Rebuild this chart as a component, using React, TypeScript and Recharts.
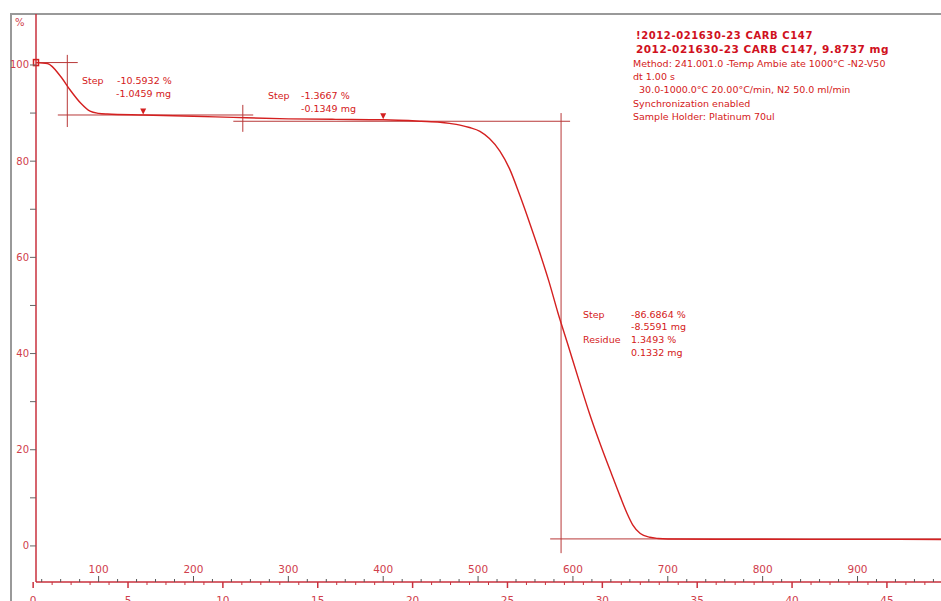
import React from "react";
import {
  ComposedChart,
  Line,
  XAxis,
  YAxis,
  ReferenceLine,
  ReferenceDot,
} from "recharts";

// TGA curve: sample temperature (°C) vs. remaining mass (%)
const tempC = [
  34, 46, 60, 70, 81, 91, 100, 109, 147, 200, 242, 300, 350, 400, 440, 460,
  470, 481, 491, 502, 512, 523, 533, 544, 555, 565, 575, 584, 594, 607, 617,
  628, 641, 650, 657, 663, 671, 681, 690, 700, 750, 800, 900, 988,
];
const massPct = [
  100.5, 100.3, 97.6, 94.8, 92.1, 90.4, 89.95, 89.8, 89.6, 89.35, 89.1, 88.8,
  88.7, 88.6, 88.3, 88.1, 87.85, 87.5, 87.0, 86.2, 84.7, 82.1, 78.5, 72.9,
  66.8, 61.0, 54.8, 48.6, 42.3, 34.0, 27.8, 21.6, 14.8, 10.2, 6.8, 4.4, 2.6,
  1.8, 1.55, 1.45, 1.4, 1.38, 1.36, 1.35,
];

const pctTicks = [0, 10, 20, 30, 40, 50, 60, 70, 80, 90, 100];
const tempTicks = [
  40, 60, 80, 100, 120, 140, 160, 180, 200, 220, 240, 260, 280, 300, 320, 340,
  360, 380, 400, 420, 440, 460, 480, 500, 520, 540, 560, 580, 600, 620, 640,
  660, 680, 700, 720, 740, 760, 780, 800, 820, 840, 860, 880, 900, 920, 940,
  960, 980,
];
// time axis: minutes, heating at 20 °C/min from ~31 °C
const minuteTicks = [
  0, 1, 2, 3, 4, 5, 6, 7, 8, 9, 10, 11, 12, 13, 14, 15, 16, 17, 18, 19, 20,
  21, 22, 23, 24, 25, 26, 27, 28, 29, 30, 31, 32, 33, 34, 35, 36, 37, 38, 39,
  40, 41, 42, 43, 44, 45, 46, 47,
];
const startTemp = 31;
const rate = 20;

// evaluation lines (step tangents)
const stepVertical = [
  { t: 67, from: 102.1, to: 87.1 },
  { t: 252, from: 91.7, to: 86.1 },
  { t: 587.5, from: 90.0, to: -1.5 },
];
const stepHorizontal = [
  { pct: 100.5, from: 34, to: 78 },
  { pct: 89.6, from: 57, to: 263 },
  { pct: 88.3, from: 242, to: 597 },
  { pct: 1.46, from: 576, to: 988 },
];
const dtgPeaks = [
  { t: 147, pct: 89.7 },
  { t: 400, pct: 88.7 },
];

const headerBold = [
  "!2012-021630-23 CARB C147",
  "2012-021630-23 CARB C147, 9.8737 mg",
];
const headerInfo = [
  "Method: 241.001.0 -Temp Ambie ate 1000°C -N2-V50",
  "dt 1.00 s",
  "  30.0-1000.0°C 20.00°C/min, N2 50.0 ml/min",
  "Synchronization enabled",
  "Sample Holder: Platinum 70ul",
];
const step1 = ["Step", "-10.5932 %", "-1.0459 mg"];
const step2 = ["Step", "-1.3667 %", "-0.1349 mg"];
const step3 = ["Step", "-86.6864 %", "-8.5591 mg", "Residue", "1.3493 %", "0.1332 mg"];

const curve = tempC.map((t, i) => ({ t, pct: massPct[i] }));
const minuteAsTemp = minuteTicks.map((m) => startTemp + rate * m);
const bottomTicks = [...tempTicks, ...minuteAsTemp].sort((a, b) => a - b);

const RED = "#d42020";
const AXIS = "#c8303c";
const LABEL = "#d0404c";
const FONT = "DejaVu Sans, Verdana, sans-serif";

const YTick = (props: any) => {
  const { x, y, payload } = props;
  const major = payload.value % 20 === 0;
  return (
    <g>
      <line x1={x - 6} x2={x} y1={y} y2={y} stroke="#666" strokeWidth={1} />
      {major && (
        <text x={x - 7} y={y} dy={3.5} textAnchor="end" fontSize={10} fill={LABEL} fontFamily={FONT}>
          {payload.value}
        </text>
      )}
    </g>
  );
};

// temperature ticks sit above the axis line, minute ticks below it
const BottomTick = (props: any) => {
  const { x, y, payload } = props;
  const v = payload.value;
  if (v % 20 === 0) {
    const major = v % 100 === 0;
    return (
      <g>
        <line x1={x} x2={x} y1={y} y2={y - (major ? 6 : 3)} stroke="#555" strokeWidth={1} />
        {major && (
          <text x={x} y={y - 9} textAnchor="middle" fontSize={10.5} fill={LABEL} fontFamily={FONT}>
            {v}
          </text>
        )}
      </g>
    );
  }
  const m = Math.round((v - startTemp) / rate);
  const major = m % 5 === 0;
  return (
    <g>
      <line x1={x} x2={x} y1={y} y2={y + (major ? 6 : 3)} stroke={AXIS} strokeWidth={major ? 1.5 : 1} />
      {major && (
        <text x={x} y={y + 22} textAnchor="middle" fontSize={10.5} fill={LABEL} fontFamily={FONT}>
          {m}
        </text>
      )}
    </g>
  );
};

const Peak = (props: any) => {
  const { cx, cy } = props;
  return <path d={`M${cx - 3},${cy - 6} L${cx + 3},${cy - 6} L${cx},${cy} Z`} fill={RED} />;
};

const txt = (s: string, x: number, y: number, extra: any = {}) => (
  <text key={s + x + y} x={x} y={y} fontSize={9.5} fill={RED} fontFamily={FONT} {...extra}>
    {s}
  </text>
);

export default function App() {
  return (
    <div style={{ position: "absolute", left: 0, top: 0, width: 941, height: 601, background: "#fff", overflow: "hidden" }}>
      <div
        style={{
          position: "absolute",
          left: 10,
          top: 13,
          width: 931,
          height: 588,
          borderTop: "2px solid #999",
          borderLeft: "2px solid #999",
          boxSizing: "border-box",
        }}
      />
      <div style={{ position: "absolute", left: 0, top: 0 }}>
        <ComposedChart
          width={941}
          height={601}
          data={curve}
          margin={{ top: 14, right: 0, bottom: 0, left: 0 }}
        >
          <XAxis
            type="number"
            dataKey="t"
            domain={[34, 988]}
            allowDataOverflow
            ticks={bottomTicks}
            interval={0}
            height={19}
            tickSize={0}
            tickMargin={0}
            axisLine={{ stroke: AXIS, strokeWidth: 1.5 }}
            tick={<BottomTick />}
          />
          <YAxis
            type="number"
            domain={[-7.5, 110.6]}
            allowDataOverflow
            ticks={pctTicks}
            interval={0}
            width={36}
            tickSize={0}
            tickMargin={0}
            axisLine={{ stroke: AXIS, strokeWidth: 1.5 }}
            tick={<YTick />}
          />
          {stepVertical.map((s, i) => (
            <ReferenceLine
              key={"v" + i}
              segment={[
                { x: s.t, y: s.from },
                { x: s.t, y: s.to },
              ]}
              stroke="#b83838"
              strokeWidth={1}
              ifOverflow="visible"
            />
          ))}
          {stepHorizontal.map((s, i) => (
            <ReferenceLine
              key={"h" + i}
              segment={[
                { x: s.from, y: s.pct },
                { x: s.to, y: s.pct },
              ]}
              stroke="#b83838"
              strokeWidth={1}
              ifOverflow="visible"
            />
          ))}
          <Line
            dataKey="pct"
            type="monotone"
            stroke={RED}
            strokeWidth={1.4}
            dot={false}
            isAnimationActive={false}
          />
          {dtgPeaks.map((p, i) => (
            <ReferenceDot key={"p" + i} x={p.t} y={p.pct} r={3} shape={<Peak />} ifOverflow="visible" />
          ))}
          <ReferenceDot
            x={tempC[0]}
            y={massPct[0]}
            r={3}
            ifOverflow="visible"
            shape={(p: any) => (
              <rect x={p.cx - 2.5} y={p.cy - 3} width={5} height={6} fill="none" stroke={RED} strokeWidth={1.5} />
            )}
          />
        </ComposedChart>
      </div>
      <svg width={941} height={601} style={{ position: "absolute", left: 0, top: 0, pointerEvents: "none" }}>
        <text x={15} y={26} fontSize={10} fill={LABEL} fontFamily={FONT}>
          %
        </text>
        {txt(headerBold[0], 636, 39, { fontWeight: "bold", fontSize: 10, letterSpacing: 0.6, fill: "#d01020" })}
        {txt(headerBold[1], 636, 53, { fontWeight: "bold", fontSize: 10.5, letterSpacing: 0.5, fill: "#d01020" })}
        {headerInfo.map((s, i) => txt(s, 633, 67 + i * 13.2, { style: { whiteSpace: "pre" } }))}
        {txt(step1[0], 82, 84)}
        {txt(step1[1], 117, 84)}
        {txt(step1[2], 116, 97)}
        {txt(step2[0], 268, 99)}
        {txt(step2[1], 301, 99)}
        {txt(step2[2], 301, 112)}
        {txt(step3[0], 583, 318)}
        {txt(step3[1], 631, 318)}
        {txt(step3[2], 631, 330)}
        {txt(step3[3], 583, 343)}
        {txt(step3[4], 631, 343)}
        {txt(step3[5], 631, 356)}
      </svg>
    </div>
  );
}
